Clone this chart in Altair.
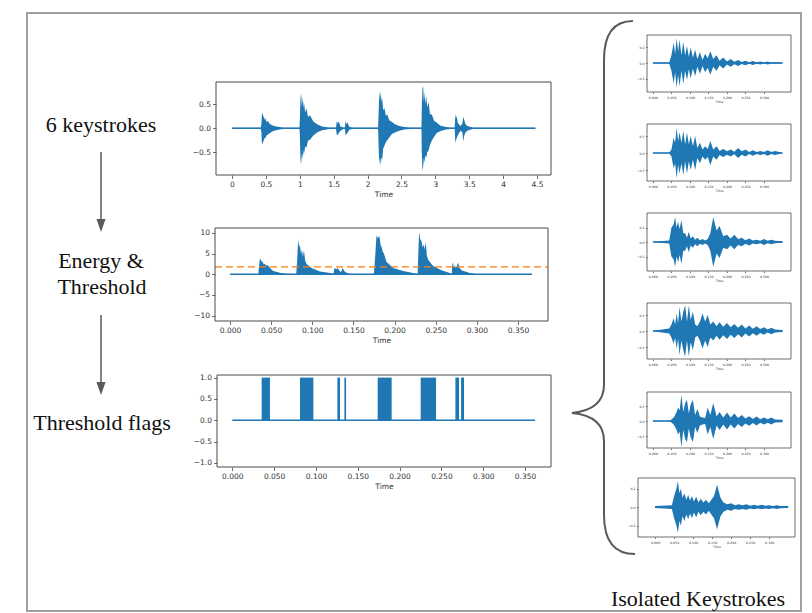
import altair as alt
import pandas as pd

W, H = 796, 605
BLUE = "#1f77b4"
ORANGE = "#ff7f0e"
FRAME = "#4a4a4a"
TXT = "#333333"
GUIDE = "#5a5a5a"
SERIF = "Liberation Serif"
SANS = "DejaVu Sans"
MINUS = "\u2212"

# ====================== DATA ======================
# Panel 1: raw recording with 6 keystrokes (upper / lower amplitude envelope)
raw_t = [0.0, 0.425,
         0.434, 0.44, 0.45, 0.46, 0.47, 0.48, 0.49, 0.51, 0.53, 0.56, 0.60, 0.65, 0.70, 0.755,
         0.995, 1.0, 1.01, 1.02, 1.03, 1.04, 1.05, 1.06, 1.08, 1.10, 1.12, 1.15, 1.20, 1.26, 1.33, 1.44,
         1.535, 1.545, 1.56, 1.575, 1.60, 1.64, 1.665, 1.675, 1.69, 1.705, 1.73, 1.77,
         2.155, 2.165, 2.175, 2.185, 2.195, 2.205, 2.215, 2.23, 2.25, 2.27, 2.29, 2.32, 2.36, 2.41, 2.47, 2.54, 2.63,
         2.795, 2.80, 2.81, 2.82, 2.83, 2.84, 2.85, 2.865, 2.88, 2.90, 2.92, 2.95, 2.98, 3.02, 3.07, 3.14, 3.22,
         3.285, 3.295, 3.305, 3.315, 3.33, 3.35, 3.37, 3.40, 3.41, 3.425, 3.44, 3.47, 3.51, 3.56,
         4.475]
raw_hi = [0.012, 0.012,
          0.10, 0.28, 0.33, 0.22, 0.27, 0.17, 0.22, 0.13, 0.15, 0.09, 0.06, 0.04, 0.025, 0.012,
          0.012, 0.15, 0.62, 0.73, 0.45, 0.66, 0.42, 0.56, 0.33, 0.42, 0.24, 0.27, 0.14, 0.08, 0.04, 0.012,
          0.012, 0.15, 0.10, 0.14, 0.04, 0.012, 0.012, 0.15, 0.09, 0.12, 0.03, 0.012,
          0.012, 0.40, 0.76, 0.60, 0.78, 0.55, 0.64, 0.38, 0.42, 0.26, 0.29, 0.17, 0.13, 0.08, 0.05, 0.025, 0.012,
          0.012, 0.45, 0.84, 0.87, 0.55, 0.76, 0.50, 0.68, 0.44, 0.55, 0.30, 0.28, 0.16, 0.12, 0.06, 0.03, 0.012,
          0.012, 0.30, 0.20, 0.26, 0.12, 0.08, 0.05, 0.10, 0.24, 0.18, 0.10, 0.05, 0.03, 0.012,
          0.012]
raw_lo = [-0.012, -0.012,
          -0.08, -0.30, -0.33, -0.25, -0.28, -0.19, -0.21, -0.15, -0.13, -0.10, -0.06, -0.04, -0.025, -0.012,
          -0.012, -0.12, -0.65, -0.75, -0.52, -0.64, -0.45, -0.55, -0.38, -0.40, -0.26, -0.24, -0.15, -0.08, -0.04, -0.012,
          -0.012, -0.13, -0.14, -0.10, -0.05, -0.012, -0.012, -0.14, -0.12, -0.09, -0.03, -0.012,
          -0.012, -0.45, -0.74, -0.62, -0.78, -0.60, -0.66, -0.42, -0.36, -0.29, -0.25, -0.19, -0.12, -0.08, -0.05, -0.025, -0.012,
          -0.012, -0.50, -0.89, -0.80, -0.62, -0.72, -0.56, -0.62, -0.50, -0.46, -0.35, -0.25, -0.18, -0.10, -0.06, -0.03, -0.012,
          -0.012, -0.30, -0.25, -0.20, -0.15, -0.10, -0.05, -0.08, -0.27, -0.16, -0.10, -0.05, -0.03, -0.012,
          -0.012]
raw_span = [0.0, 4.475]

# Panel 2: short-time energy and detection threshold
energy_t = [0.0, 0.0345,
            0.0348, 0.0364, 0.0380, 0.0397, 0.0411, 0.0425, 0.0439, 0.0453, 0.0486, 0.0526, 0.0607, 0.0688, 0.0790,
            0.0805, 0.0815, 0.0829, 0.0840, 0.0850, 0.0862, 0.0874, 0.0886, 0.0898, 0.0915, 0.0931, 0.0991, 0.1093, 0.1214, 0.1255,
            0.1262, 0.1270, 0.1295, 0.1310, 0.1327, 0.1347, 0.1360, 0.1368, 0.1380, 0.1396, 0.1436, 0.1500, 0.1745,
            0.1750, 0.1765, 0.1780, 0.1795, 0.1813, 0.1821, 0.1831, 0.1841, 0.1855, 0.1869, 0.1902, 0.1983, 0.2104, 0.2225, 0.2280,
            0.2284, 0.2298, 0.2312, 0.2327, 0.2341, 0.2355, 0.2367, 0.2379, 0.2392, 0.2408, 0.2468, 0.2569, 0.2671, 0.2695,
            0.2699, 0.2709, 0.2719, 0.2731, 0.2743, 0.2757, 0.2772, 0.2790, 0.2812, 0.2913, 0.2994, 0.3050, 0.367]
energy_v = [0.0, 0.0,
            1.0, 3.9, 3.2, 3.0, 2.4, 2.6, 2.0, 2.3, 1.5, 0.8, 0.35, 0.15, 0.05,
            0.05, 3.0, 8.5, 6.5, 7.2, 5.0, 5.9, 4.2, 5.8, 3.2, 2.5, 1.5, 0.7, 0.3, 0.05,
            0.6, 1.5, 1.2, 1.5, 0.9, 0.5, 1.0, 1.5, 1.1, 0.6, 0.2, 0.05, 0.02,
            0.5, 4.5, 9.4, 8.8, 9.3, 8.5, 7.0, 6.7, 5.5, 5.1, 3.0, 1.5, 0.8, 0.3, 0.05,
            2.5, 10.2, 8.5, 8.0, 6.5, 7.2, 6.0, 7.9, 4.5, 3.5, 2.0, 1.0, 0.3, 0.05,
            2.0, 3.0, 1.5, 2.2, 1.6, 2.0, 2.8, 1.6, 1.0, 0.3, 0.05, 0.0, 0.0]
energy_span = [0.0, 0.367]
threshold = 1.8

# Panel 3: threshold flags (intervals where the flag is 1)
flag_start = [0.0351, 0.0809, 0.1256, 0.1340, 0.1738, 0.2252, 0.2667, 0.2735]
flag_end = [0.0450, 0.0969, 0.1288, 0.1360, 0.1905, 0.2436, 0.2711, 0.2770]
flag_span = [0.0, 0.362]

# Right column: six isolated keystrokes (amplitude envelope on a common time grid)
iso_t = [0.0, 0.044, 0.05, 0.056, 0.06, 0.064, 0.068, 0.072, 0.077, 0.082,
         0.087, 0.092, 0.097, 0.102, 0.108, 0.114, 0.12, 0.127, 0.134, 0.141,
         0.148, 0.155, 0.163, 0.172, 0.18, 0.19, 0.2, 0.21, 0.22, 0.23,
         0.24, 0.25, 0.26, 0.27, 0.28, 0.29, 0.3, 0.31, 0.32, 0.33, 0.35]
iso_amp_1 = [0.006, 0.006, 0.1, 0.26, 0.12, 0.32, 0.15, 0.3, 0.1, 0.27,
             0.1, 0.22, 0.08, 0.2, 0.07, 0.17, 0.05, 0.14, 0.04, 0.12,
             0.06, 0.15, 0.05, 0.1, 0.03, 0.07, 0.02, 0.05, 0.015, 0.04,
             0.012, 0.03, 0.01, 0.025, 0.01, 0.02, 0.008, 0.02, 0.008, 0.01, 0.006]
iso_amp_2 = [0.006, 0.006, 0.1, 0.45, 0.3, 0.74, 0.35, 0.6, 0.3, 0.65,
             0.25, 0.6, 0.25, 0.5, 0.2, 0.5, 0.15, 0.3, 0.1, 0.2,
             0.12, 0.35, 0.1, 0.2, 0.06, 0.12, 0.05, 0.1, 0.04, 0.15,
             0.05, 0.1, 0.03, 0.08, 0.03, 0.06, 0.03, 0.08, 0.03, 0.06, 0.006]
iso_amp_3 = [0.006, 0.05, 0.5, 0.6, 0.85, 0.5, 0.7, 0.45, 0.75, 0.3,
             0.3, 0.15, 0.35, 0.12, 0.2, 0.08, 0.15, 0.06, 0.1, 0.05,
             0.1, 0.3, 0.85, 0.4, 0.55, 0.2, 0.25, 0.12, 0.25, 0.1,
             0.15, 0.06, 0.12, 0.05, 0.08, 0.04, 0.1, 0.04, 0.08, 0.04, 0.03]
iso_amp_4 = [0.006, 0.08, 0.2, 0.4, 0.2, 0.55, 0.25, 0.75, 0.3, 0.6,
             0.8, 0.3, 0.8, 0.35, 0.6, 0.2, 0.15, 0.3, 0.55, 0.3,
             0.5, 0.2, 0.3, 0.15, 0.27, 0.13, 0.25, 0.12, 0.22, 0.1,
             0.2, 0.08, 0.17, 0.07, 0.15, 0.06, 0.12, 0.05, 0.1, 0.05, 0.03]
iso_amp_5 = [0.006, 0.006, 0.05, 0.12, 0.2, 0.3, 0.45, 0.35, 0.87, 0.3,
             0.6, 0.7, 0.25, 0.55, 0.7, 0.2, 0.4, 0.15, 0.12, 0.1,
             0.45, 0.2, 0.6, 0.15, 0.3, 0.12, 0.28, 0.12, 0.25, 0.1,
             0.2, 0.08, 0.16, 0.07, 0.15, 0.06, 0.12, 0.06, 0.12, 0.05, 0.04]
iso_amp_6 = [0.01, 0.02, 0.12, 0.2, 0.28, 0.15, 0.2, 0.1, 0.15, 0.08,
             0.13, 0.07, 0.12, 0.06, 0.11, 0.05, 0.09, 0.05, 0.08, 0.04,
             0.08, 0.12, 0.24, 0.1, 0.05, 0.03, 0.04, 0.02, 0.03, 0.02,
             0.03, 0.015, 0.025, 0.015, 0.025, 0.015, 0.02, 0.012, 0.02, 0.012, 0.01]
iso_amps = [iso_amp_1, iso_amp_2, iso_amp_3, iso_amp_4, iso_amp_5, iso_amp_6]
iso_span = [0.0, 0.35]

# tick values
raw_xticks = [0, 0.5, 1, 1.5, 2, 2.5, 3, 3.5, 4, 4.5]
raw_yticks = [-0.5, 0.0, 0.5]
energy_xticks = [0.0, 0.05, 0.1, 0.15, 0.2, 0.25, 0.3, 0.35]
energy_yticks = [-10, -5, 0, 5, 10]
flag_yticks = [-1.0, -0.5, 0.0, 0.5, 1.0]
iso_xticks = [0.0, 0.05, 0.1, 0.15, 0.2, 0.25, 0.3]
iso_yticks = [[-0.2, 0.0, 0.2], [-0.5, 0.0, 0.5], [-0.5, 0.0, 0.5],
              [-0.5, 0.0, 0.5], [-0.5, 0.0, 0.5], [-0.2, 0.0, 0.2]]

# annotation texts
step_labels = ["6 keystrokes", "Energy &", "Threshold", "Threshold flags"]
right_label = "Isolated Keystrokes"

for a, b in [(raw_t, raw_hi), (raw_t, raw_lo), (energy_t, energy_v)]:
    assert len(a) == len(b)
for amp in iso_amps:
    assert len(amp) == len(iso_t)
assert len(flag_start) == len(flag_end)

# ====================== LAYOUT (pixel boxes of panels) ======================
P1 = dict(x0=208, x1=543, y0=74, y1=167, xd=[-0.236, 4.706], yd=[-0.973, 0.965])
P2 = dict(x0=207, x1=540, y0=220, y1=313, xd=[-0.0182, 0.3864], yd=[-11.31, 11.21])
P3 = dict(x0=209, x1=543, y0=367, y1=459, xd=[-0.0183, 0.381], yd=[-1.094, 1.061])
SP = [
    dict(x0=639, x1=783, y0=27, y1=84, xd=[-0.016, 0.373], yd=[-0.374, 0.361]),
    dict(x0=639, x1=783, y0=116, y1=173, xd=[-0.016, 0.373], yd=[-0.824, 0.853]),
    dict(x0=639, x1=783, y0=205, y1=263, xd=[-0.016, 0.373], yd=[-1.0, 1.0]),
    dict(x0=639, x1=783, y0=295, y1=351, xd=[-0.016, 0.373], yd=[-0.875, 0.875]),
    dict(x0=639, x1=783, y0=384, y1=440, xd=[-0.016, 0.373], yd=[-0.9, 0.967]),
    dict(x0=630, x1=787, y0=470, y1=529, xd=[-0.045, 0.368], yd=[-0.324, 0.314]),
]


def lab(fmt):
    return f"replace(format(datum.value, '{fmt}'), '-', '{MINUS}')"


def xs(box):
    return alt.Scale(domain=box["xd"], range=[box["x0"], box["x1"]], nice=False, zero=False)


def ys(box):
    return alt.Scale(domain=box["yd"], range=[box["y1"], box["y0"]], nice=False, zero=False)


def xaxis(box, values, fmt, fs, ts, pad, tpad):
    return alt.Axis(orient="bottom", offset=box["y1"] - H, values=values, labelExpr=lab(fmt),
                    labelFontSize=fs, labelFont=SANS, labelColor=TXT, labelPadding=pad,
                    labelFlush=False, labelOverlap=False, tickSize=ts, tickColor=FRAME,
                    tickWidth=0.8, domain=False, grid=False, title="Time", titleFont=SANS,
                    titleFontSize=fs, titleFontWeight="normal", titleColor=TXT, titlePadding=tpad)


def yaxis(box, values, fmt, fs, ts, pad):
    return alt.Axis(orient="left", offset=-box["x0"], values=values, labelExpr=lab(fmt),
                    labelFontSize=fs, labelFont=SANS, labelColor=TXT, labelPadding=pad,
                    labelFlush=False, labelOverlap=False, tickSize=ts, tickColor=FRAME,
                    tickWidth=0.8, domain=False, grid=False, title=None)


one = pd.DataFrame({"k": [0]})


def frame(box, width=1.0):
    return alt.Chart(one).mark_rect(fill=None, stroke=FRAME, strokeWidth=width).encode(
        x=alt.value(box["x0"]), x2=alt.value(box["x1"]), y=alt.value(box["y0"]), y2=alt.value(box["y1"]))


def baseline(box, span, width):
    df = pd.DataFrame({"s": [span[0]], "e": [span[1]], "z": [0.0]})
    return alt.Chart(df).mark_rule(color=BLUE, strokeWidth=width).encode(
        x=alt.X("s:Q", scale=xs(box), axis=None), x2="e:Q",
        y=alt.Y("z:Q", scale=ys(box), axis=None))


layers = []

# ---- Panel 1 ----
raw_df = pd.DataFrame({"t": raw_t, "hi": raw_hi, "lo": raw_lo})
layers.append(alt.Chart(raw_df).mark_area(color=BLUE, opacity=1).encode(
    x=alt.X("t:Q", scale=xs(P1), axis=xaxis(P1, raw_xticks, "~g", 7.5, 3.5, 2, 2)),
    y=alt.Y("hi:Q", scale=ys(P1), axis=yaxis(P1, raw_yticks, ".1f", 7.5, 3.5, 2)),
    y2="lo:Q"))
layers.append(baseline(P1, raw_span, 1.5))
layers.append(frame(P1))

# ---- Panel 2 ----
en_df = pd.DataFrame({"t": energy_t, "v": energy_v, "z": [0.0] * len(energy_t)})
layers.append(alt.Chart(en_df).mark_area(color=BLUE, opacity=1).encode(
    x=alt.X("t:Q", scale=xs(P2), axis=xaxis(P2, energy_xticks, ".3f", 7.5, 3.5, 2, 2)),
    y=alt.Y("v:Q", scale=ys(P2), axis=yaxis(P2, energy_yticks, "d", 7.5, 3.5, 2)),
    y2="z:Q"))
layers.append(baseline(P2, energy_span, 1.5))
thr_df = pd.DataFrame({"s": [P2["xd"][0]], "e": [P2["xd"][1]], "th": [threshold]})
layers.append(alt.Chart(thr_df).mark_rule(color=ORANGE, strokeWidth=1.4, strokeDash=[7, 4]).encode(
    x=alt.X("s:Q", scale=xs(P2), axis=None), x2="e:Q",
    y=alt.Y("th:Q", scale=ys(P2), axis=None)))
layers.append(frame(P2))

# ---- Panel 3 ----
fl_df = pd.DataFrame({"s": flag_start, "e": flag_end, "lo": [0.0] * len(flag_start), "hi": [1.0] * len(flag_start)})
layers.append(alt.Chart(fl_df).mark_rect(color=BLUE, opacity=1).encode(
    x=alt.X("s:Q", scale=xs(P3), axis=xaxis(P3, energy_xticks, ".3f", 7.5, 3.5, 2, 2)),
    x2="e:Q",
    y=alt.Y("lo:Q", scale=ys(P3), axis=yaxis(P3, flag_yticks, ".1f", 7.5, 3.5, 2)),
    y2="hi:Q"))
layers.append(baseline(P3, flag_span, 1.5))
layers.append(frame(P3))

# ---- Isolated keystrokes ----
for box, amp, yt in zip(SP, iso_amps, iso_yticks):
    df = pd.DataFrame({"t": iso_t, "hi": amp, "lo": [-a for a in amp]})
    layers.append(alt.Chart(df).mark_area(color=BLUE, opacity=1).encode(
        x=alt.X("t:Q", scale=xs(box), axis=xaxis(box, iso_xticks, ".3f", 3.2, 1.5, 1.5, 1)),
        y=alt.Y("hi:Q", scale=ys(box), axis=yaxis(box, yt, ".1f", 3.2, 1.5, 1.5)),
        y2="lo:Q"))
    layers.append(baseline(box, iso_span, 1.4))
    layers.append(frame(box, 0.8))

# ---- Annotations ----
layers.append(alt.Chart(one).mark_rect(fill=None, stroke="#a0a0a0", strokeWidth=2).encode(
    x=alt.value(19), x2=alt.value(793), y=alt.value(5), y2=alt.value(603)))

text_pos = [(93, 124), (93, 260), (94, 286), (94, 422)]
for s, (px, py) in zip(step_labels, text_pos):
    layers.append(alt.Chart(pd.DataFrame({"label": [s]})).mark_text(
        font=SERIF, fontSize=22, color="#111111", align="center", baseline="alphabetic").encode(
        text="label:N", x=alt.value(px), y=alt.value(py)))
layers.append(alt.Chart(pd.DataFrame({"label": [right_label]})).mark_text(
    font=SERIF, fontSize=22, color="#111111", align="center", baseline="alphabetic").encode(
    text="label:N", x=alt.value(690), y=alt.value(598)))

arrow_head = "M-0.35,-0.5 L0.35,-0.5 L0,0.5 Z"
for (ya, yb) in [(144, 213), (307, 376)]:
    layers.append(alt.Chart(one).mark_rule(color=GUIDE, strokeWidth=1.5).encode(
        x=alt.value(93), y=alt.value(ya), y2=alt.value(yb)))
    layers.append(alt.Chart(one).mark_point(shape=arrow_head, filled=True, color=GUIDE, size=676, opacity=1).encode(
        x=alt.value(93), y=alt.value(yb + 4.5)))

brace = ("M0.108,-0.996 Q0,-0.996 0,-0.85 L0,0.364 Q0,0.458 -0.12,0.469 "
         "Q0,0.48 0,0.574 L0,0.85 Q0,0.996 0.116,0.996")
layers.append(alt.Chart(one).mark_point(shape=brace, filled=False, stroke=GUIDE, strokeWidth=2,
                                        size=535 * 535, opacity=1).encode(
    x=alt.value(596), y=alt.value(279.5)))

chart = alt.layer(*layers).resolve_scale(x="independent", y="independent").properties(
    width=W, height=H, autosize=alt.AutoSizeParams(type="none"), padding=0
).configure_view(stroke=None)

chart.save("out.html", embed_options={"renderer": "svg", "actions": False})
